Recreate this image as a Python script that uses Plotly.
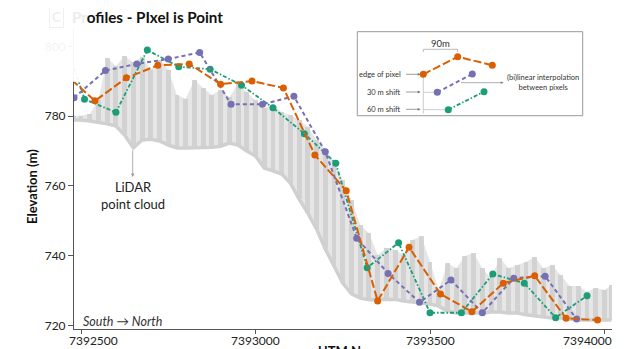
import plotly.graph_objects as go

# ---------------- data ----------------
orange_x = [7392450, 7392540, 7392630, 7392720, 7392810, 7392900, 7392990, 7393080, 7393170,
            7393260, 7393350, 7393440, 7393530, 7393620, 7393710, 7393800, 7393890, 7393980]
orange_y = [792.5, 784.4, 791.0, 794.6, 795.0, 789.2, 790.1, 788.1, 768.9,
            758.6, 727.0, 742.4, 729.0, 723.9, 732.1, 734.2, 722.0, 721.5]

purple_x = [7392480, 7392570, 7392660, 7392750, 7392840, 7392930, 7393020, 7393110, 7393200,
            7393290, 7393380, 7393470, 7393560, 7393650, 7393740, 7393830, 7393920]
purple_y = [785.3, 793.1, 795.0, 796.4, 798.3, 783.4, 783.4, 785.7, 769.8,
            745.0, 734.9, 726.6, 733.0, 723.6, 733.5, 734.1, 721.8]

green_x = [7392420, 7392510, 7392600, 7392690, 7392780, 7392870, 7392960, 7393050, 7393140,
           7393230, 7393320, 7393410, 7393500, 7393590, 7393680, 7393770, 7393860, 7393950]
green_y = [812.0, 784.9, 781.1, 799.0, 794.2, 793.5, 788.9, 782.4, 775.0,
           766.5, 736.5, 743.7, 723.6, 723.6, 734.7, 732.1, 722.2, 728.5]

lidar_x = [7392480, 7392500, 7392525, 7392550, 7392575, 7392600, 7392625, 7392650, 7392675,
           7392700, 7392725, 7392750, 7392775, 7392800, 7392825, 7392850, 7392875, 7392900,
           7392925, 7392950, 7392975, 7393000, 7393025, 7393050, 7393075, 7393100, 7393125,
           7393150, 7393175, 7393200, 7393225, 7393250, 7393275, 7393300, 7393325, 7393350,
           7393375, 7393400, 7393425, 7393450, 7393475, 7393500, 7393525, 7393550, 7393575,
           7393600, 7393625, 7393650, 7393675, 7393700, 7393725, 7393750, 7393775, 7393800,
           7393825, 7393850, 7393875, 7393900, 7393925, 7393950, 7393975, 7394000, 7394020]
lidar_ground = [778.9, 778.9, 778.6, 778.3, 777.8, 777.2, 774.6, 770.9, 773.2,
                773.4, 772.9, 771.7, 770.9, 770.9, 770.9, 770.9, 771.1, 771.4,
                772.3, 771.7, 770.0, 768.6, 765.1, 764.3, 763.4, 760.8, 756.2,
                752.2, 747.6, 741.9, 737.0, 732.1, 729.0, 727.8, 727.3, 727.3,
                727.5, 727.5, 727.0, 726.7, 726.4, 726.1, 725.5, 724.1, 723.5,
                723.5, 723.5, 723.5, 723.8, 723.8, 723.5, 723.5, 723.0, 722.7,
                722.4, 722.1, 722.1, 721.8, 721.5, 721.5, 721.5, 721.5, 721.5]
lidar_top = [780.1, 780.1, 780.6, 784.6, 796.7, 794.4, 797.3, 795.5, 797.0,
             793.3, 796.1, 793.3, 786.1, 785.0, 790.4, 788.1, 786.1, 787.5,
             785.5, 789.2, 786.9, 784.6, 782.3, 783.2, 781.2, 780.3, 778.9,
             776.9, 773.2, 770.3, 766.9, 761.7, 756.0, 748.8, 746.5, 740.2,
             742.2, 741.6, 740.2, 744.5, 745.6, 738.2, 730.1, 737.9, 736.4,
             739.9, 740.7, 736.4, 733.6, 739.3, 736.4, 737.3, 738.2, 739.6,
             736.4, 737.3, 734.4, 731.3, 731.3, 729.6, 730.7, 730.1, 731.6]

x_tickvals = [7392500, 7393000, 7393500, 7394000]
x_ticktext = ["7392500", "7393000", "7393500", "7394000"]
y_tickvals = [720, 740, 760, 780, 800]

# legend-key sketch (in legend-box pixel units)
key_orange_x = [423.3, 457.7, 492.3]
key_orange_y = [74.3, 56.7, 65.3]
key_purple_x = [437.3, 472.3]
key_purple_y = [92.3, 74.0]
key_green_x = [448.3, 484.0]
key_green_y = [109.7, 91.7]

ORANGE, PURPLE, GREEN = "#d95f02", "#7570b3", "#1b9e77"
FONT = "Lato"

# window is 628x349 but the page body has an 8px margin
OFF = 8
WIN_W, WIN_H = 628, 349
W, H = WIN_W - OFF, WIN_H - OFF
# plot area in window pixels
L, R, T, B = 74, 612, 28, 329


def xp(px):
    return (px - L) / (R - L)


def yp(py):
    return (B - py) / (B - T)


fig = go.Figure()

# LiDAR point cloud: canopy columns (bars) + translucent envelope + ground band
fig.add_trace(go.Bar(x=lidar_x, base=lidar_ground,
                     y=[t - g for t, g in zip(lidar_top, lidar_ground)],
                     width=14, marker=dict(color="#d6d6d6", line=dict(width=0)),
                     showlegend=False, hoverinfo="skip"))
fig.add_trace(go.Scatter(x=lidar_x, y=lidar_ground, mode="lines",
                         line=dict(width=0, color="#e0e0e0"), showlegend=False, hoverinfo="skip"))
fig.add_trace(go.Scatter(x=lidar_x, y=lidar_top, mode="lines", fill="tonexty",
                         fillcolor="rgba(205,205,205,0.5)", line=dict(width=0, color="#e0e0e0"),
                         showlegend=False, hoverinfo="skip"))
fig.add_trace(go.Scatter(x=lidar_x, y=lidar_ground, mode="lines",
                         line=dict(width=3.5, color="#d0d0d0"), showlegend=False, hoverinfo="skip"))

# profiles
fig.add_trace(go.Scatter(x=green_x, y=green_y, mode="lines+markers",
                         line=dict(color=GREEN, width=1.8, dash="4px,2px,1.5px,2px"),
                         marker=dict(color=GREEN, size=7), showlegend=False))
fig.add_trace(go.Scatter(x=purple_x, y=purple_y, mode="lines+markers",
                         line=dict(color=PURPLE, width=2, dash="4px,3px"),
                         marker=dict(color=PURPLE, size=7), showlegend=False))
fig.add_trace(go.Scatter(x=orange_x, y=orange_y, mode="lines+markers",
                         line=dict(color=ORANGE, width=2, dash="8px,3px"),
                         marker=dict(color=ORANGE, size=7), showlegend=False))

# legend key sketch on an overlay axis measured in pixels
gl = dict(xaxis="x2", yaxis="y2", showlegend=False, hoverinfo="skip", cliponaxis=False)
fig.add_trace(go.Scatter(x=[423.3, 423.3], y=[71, 113.5], mode="lines",
                         line=dict(color="#cccccc", width=1), **gl))
fig.add_trace(go.Scatter(x=[423.3, key_purple_x[0]], y=[key_purple_y[0]] * 2, mode="lines",
                         line=dict(color="#cccccc", width=1), **gl))
fig.add_trace(go.Scatter(x=[423.3, key_green_x[0]], y=[key_green_y[0]] * 2, mode="lines",
                         line=dict(color="#cccccc", width=1), **gl))
fig.add_trace(go.Scatter(x=[423.3, 423.3, 457.7, 457.7], y=[52, 49.3, 49.3, 52], mode="lines",
                         line=dict(color="#bbbbbb", width=1), **gl))
fig.add_trace(go.Scatter(x=key_green_x, y=key_green_y, mode="lines+markers",
                         line=dict(color=GREEN, width=1.8, dash="4px,2px,1.5px,2px"),
                         marker=dict(color=GREEN, size=7), **gl))
fig.add_trace(go.Scatter(x=key_purple_x, y=key_purple_y, mode="lines+markers",
                         line=dict(color=PURPLE, width=2, dash="4px,3px"),
                         marker=dict(color=PURPLE, size=7), **gl))
fig.add_trace(go.Scatter(x=key_orange_x, y=key_orange_y, mode="lines+markers",
                         line=dict(color=ORANGE, width=2, dash="8px,3px"),
                         marker=dict(color=ORANGE, size=7), **gl))

ann = []
# title (first letters faded under the white panel)
ann.append(dict(xref="paper", yref="paper", x=xp(70), y=yp(17), xanchor="left", yanchor="middle",
                showarrow=False,
                text="<span style='color:#ececec'>Pr</span>ofiles - PIxel is Point",
                font=dict(family=FONT, size=15.2, color="#111111", weight="bold")))
ann.append(dict(xref="paper", yref="paper", x=xp(56.7), y=yp(17.5), xanchor="center", yanchor="middle",
                showarrow=False, text="C", bordercolor="#efefef", borderwidth=1, borderpad=2,
                font=dict(family=FONT, size=13, color="#eeeeee", weight="bold")))
# axis titles
ann.append(dict(xref="paper", yref="paper", x=xp(32), y=yp(187), textangle=-90,
                xanchor="center", yanchor="middle", showarrow=False, text="Elevation (m)",
                font=dict(family=FONT, size=13, color="#111111", weight="bold")))
ann.append(dict(xref="paper", yref="paper", x=xp(339), y=yp(340.5), xanchor="center", yanchor="top",
                showarrow=False, text="UTM N",
                font=dict(family=FONT, size=13, color="#111111", weight="bold")))
# x tick labels (outer ones flush toward the plot)
x_label_shift = [12, 0, 0, -17.5]
for v, t, s in zip(x_tickvals, x_ticktext, x_label_shift):
    ann.append(dict(xref="x", yref="paper", x=v, y=0, xshift=s, yshift=-11.7,
                    xanchor="center", yanchor="middle", showarrow=False, text=t,
                    font=dict(family=FONT, size=12, color="#222222")))
# LiDAR label + arrow
ann.append(dict(xref="paper", yref="paper", x=xp(132.7), y=yp(177), ax=0, ay=-28,
                showarrow=True, arrowhead=2, arrowsize=0.9, arrowwidth=0.8, arrowcolor="#999999",
                text=""))
ann.append(dict(xref="paper", yref="paper", x=xp(132.7), y=yp(195.8), xanchor="center",
                yanchor="middle", showarrow=False, text="LiDAR<br>point cloud",
                font=dict(family=FONT, size=13, color="#222222")))
ann.append(dict(xref="paper", yref="paper", x=xp(81), y=yp(321), xanchor="left", yanchor="middle",
                showarrow=False, text="<i>South → North</i>",
                font=dict(family=FONT, size=12.5, color="#333333")))
# legend key texts
kf = dict(family=FONT, size=7.5, color="#333333")
for txt, yy in [("edge of pixel", 74.3), ("30 m shift", 92.0), ("60 m shift", 109.3)]:
    ann.append(dict(xref="x2", yref="y2", x=402.5, y=yy, xanchor="right", yanchor="middle",
                    showarrow=False, text=txt, font=kf))
    ann.append(dict(xref="x2", yref="y2", x=420.5, y=yy, axref="x2", ayref="y2", ax=404.5, ay=yy,
                    showarrow=True, arrowhead=2, arrowsize=0.8, arrowwidth=0.7,
                    arrowcolor="#777777", text=""))
ann.append(dict(xref="x2", yref="y2", x=503.5, y=82.7, axref="x2", ayref="y2", ax=459.5, ay=82.7,
                showarrow=True, arrowhead=2, arrowsize=0.8, arrowwidth=0.7,
                arrowcolor="#888888", text=""))
ann.append(dict(xref="x2", yref="y2", x=542.7, y=82.3, xanchor="center", yanchor="middle",
                showarrow=False, text="(bi)linear interpolation<br>between pixels", font=kf))
ann.append(dict(xref="x2", yref="y2", x=440.5, y=43.3, xanchor="center", yanchor="middle",
                showarrow=False, text="90m", font=dict(family=FONT, size=9.5, color="#333333")))

shapes = [
    dict(type="rect", xref="paper", yref="paper", x0=xp(357.3), x1=xp(582.7),
         y0=yp(115.7), y1=yp(31.7), line=dict(color="#999999", width=1),
         fillcolor="white", layer="below"),
    dict(type="rect", xref="paper", yref="paper", x0=xp(OFF), x1=xp(89.3),
         y0=yp(81.7), y1=yp(OFF), line=dict(width=0),
         fillcolor="rgba(255,255,255,0.94)", layer="above"),
]

fig.update_layout(
    template="none",
    width=W, height=H,
    margin=dict(l=L - OFF, r=WIN_W - R, t=T - OFF, b=WIN_H - B, pad=0, autoexpand=False),
    paper_bgcolor="white", plot_bgcolor="rgba(0,0,0,0)",
    font=dict(family=FONT, size=12, color="#222222"),
    showlegend=False,
    bargap=0,
    xaxis=dict(range=[7392479.9, 7394021.5], tickvals=x_tickvals, automargin=False,
               showticklabels=False,
               showline=True, linecolor="#555555", linewidth=1, ticks="outside", ticklen=4,
               tickcolor="#555555", showgrid=False, zeroline=False),
    yaxis=dict(range=[718.94, 805.31], tickvals=y_tickvals, automargin=False,
               showline=True, linecolor="#555555", linewidth=1, ticks="outside", ticklen=5,
               tickcolor="#555555", showgrid=False, zeroline=False,
               tickfont=dict(family=FONT, size=12, color="#222222")),
    xaxis2=dict(domain=[xp(357.3), xp(582.7)], range=[357.3, 582.7], anchor="y2",
                visible=False, fixedrange=True, automargin=False),
    yaxis2=dict(domain=[yp(115.7), yp(31.7)], range=[115.7, 31.7], anchor="x2",
                visible=False, fixedrange=True, automargin=False),
    annotations=ann,
    shapes=shapes,
)

fig.write_html("out.html")
